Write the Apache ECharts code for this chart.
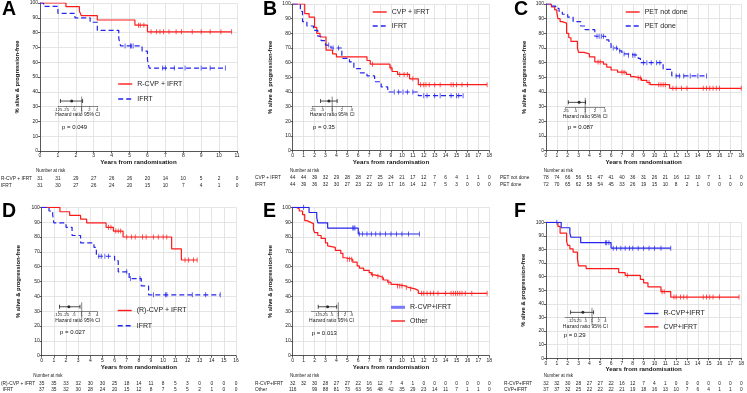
<!DOCTYPE html>
<html>
<head>
<meta charset="utf-8">
<style>html,body{margin:0;background:#fff}#chart{width:747px;height:393px}</style>
<script src="https://cdn.jsdelivr.net/npm/echarts@6/dist/echarts.min.js"></script>
</head>
<body>
<div id="chart"></div>
<script>
// ---- data ----
// curves: [years, % alive & progression-free] at each step
const aRed = [[0,100],[1.45,97.5],[2.2,94.5],[2.3,91.5],[3.2,88.5],[5.3,85],[6.0,80.5],[10.7,80.5]];
const aRedCens = [5.5,5.6,5.8,6.2,6.5,6.7,6.9,7.2,7.6,7.9,8.5,9.0,9.5,10.1,10.7];
const aBlue = [[0,100],[0.2,97.7],[1.0,93],[1.95,90],[2.8,87],[3.2,81.5],[4.4,76],[4.5,71],[5.7,67.5],[6.0,61.5],[6.1,56],[10.35,56]];
const aBlueCens = [4.75,5.05,5.1,5.2,6.85,7.0,7.5,8.1,9.0,9.5,10.35];

const bRed = [[0,100],[1.1,93.5],[1.5,91],[2.0,84],[2.2,80],[2.5,77.5],[3.05,68.5],[3.65,66],[4.0,64],[6.8,61.5],[7.1,59],[8.9,56.5],[9.1,54],[9.6,52],[10.7,49],[11.5,45],[17.8,45]];
const bRedCens = [7.3,9.0,9.8,10.2,10.5,11.0,11.7,12.0,12.2,12.5,13.0,13.5,14.5,14.7,15.0,15.5,16.0,17.8];
const bBlue = [[0,100],[0.7,95],[0.9,88],[1.3,85],[1.9,82],[2.3,78],[2.6,75],[3.0,72],[3.5,70],[4.5,63],[5.2,60.5],[5.6,56],[6.2,53],[6.8,51],[7.5,47],[8.1,43.5],[8.7,40],[11.5,37.5],[15.6,37.5]];
const bBlueCens = [3.3,3.7,4.2,9.3,9.7,10.1,10.5,11.0,12.0,12.3,13.0,13.5,14.5,15.0,15.2,15.6];

const cRed = [[0,100],[0.5,98],[0.8,96],[1.0,94],[1.1,90],[1.3,88],[1.5,87],[1.9,80],[2.1,77],[2.3,74.5],[2.9,70],[3.0,67],[3.5,66],[4.0,64],[4.5,60.5],[5.3,59],[5.6,57],[6.0,55],[6.6,53.5],[7.4,52],[7.8,50.5],[8.1,49.5],[8.8,48],[9.3,46.5],[9.6,45],[11.4,42.5],[18,42.5]];
const cRedCens = [4.8,5.0,7.0,7.2,8.5,8.7,9.5,10.4,10.6,10.8,11.0,11.7,12.0,12.5,13.0,14.5,14.8,15.1,15.4,15.7,16.0,18.0];
const cBlue = [[0,100],[0.6,98.5],[0.9,97],[1.2,95],[1.5,93],[2.0,91],[2.5,88],[3.2,85],[3.6,82.5],[4.5,78],[5.5,75.5],[5.8,73],[6.0,70],[6.6,68],[7.0,66],[7.4,65],[8.5,63],[8.7,60],[10.8,55.5],[11.6,51],[14.8,51]];
const cBlueCens = [4.7,4.9,5.1,5.3,6.2,6.5,6.8,7.2,7.6,8.0,8.2,9.0,9.3,9.7,10.2,10.5,12.0,12.3,12.7,13.3,14.0,14.8];

const dRed = [[0,100],[1.5,97],[2.3,94.5],[3.2,92],[3.7,89.5],[5.3,86.5],[5.9,84],[6.7,80],[10.7,72],[11.5,64.5],[12.8,64.5]];
const dRedCens = [5.5,5.7,6.1,6.3,6.5,7.0,7.4,7.7,8.3,8.6,9.2,9.6,10.0,10.3,11.8,12.1,12.5,12.8];
const dBlue = [[0,100],[0.6,97.5],[0.9,95],[1.0,89.5],[2.0,86.5],[2.5,81],[3.2,76],[4.3,73],[4.5,67],[6.0,64],[6.3,56.5],[7.2,52],[8.2,47],[8.8,41],[14.7,41]];
const dBlueCens = [4.7,4.9,5.2,5.5,7.0,7.3,8.1,9.2,10.2,10.3,12.4,13.5,14.7];

const eBlue = [[0,100],[1.5,96.5],[2.2,93],[2.3,89.5],[3.2,86],[6.0,82],[11.6,82]];
const eBlueCens = [1.0,5.5,5.6,5.7,6.1,6.4,6.8,7.2,7.6,8.0,8.5,9.0,9.5,10.0,10.6,11.6];
const eRed = [[0,100],[0.3,99],[0.6,97.5],[0.9,95],[1.1,91],[1.3,90],[1.6,89],[1.9,85],[2.0,83],[2.3,81],[2.6,79],[3.0,76],[3.2,74],[3.3,73],[3.9,71],[4.4,69],[4.6,66],[4.8,65],[5.5,63],[5.9,60.5],[6.1,59],[6.5,57.5],[7.0,56],[7.2,54.5],[7.5,53.5],[8.0,52.5],[8.3,51],[8.7,49.5],[9.0,48],[9.4,47],[10.3,46],[10.6,45],[11.2,44],[11.5,42],[17.8,42]];
const eRedCens = [5.0,5.2,5.4,7.3,7.8,8.2,8.8,9.6,9.8,10.0,10.4,10.8,11.8,12.0,12.3,12.6,12.9,13.3,14.0,14.5,14.7,14.9,15.1,15.3,15.5,15.8,16.4,17.8];

const fBlue = [[0,100],[1.4,96],[2.2,92],[2.3,89],[3.2,85],[6.0,81],[11.5,81]];
const fBlueCens = [1.0,5.5,5.6,5.8,6.2,6.5,6.9,7.3,7.7,8.0,8.5,9.0,9.5,10.0,10.6,11.5];
const fRed = [[0,100],[1.1,97],[1.3,92],[1.9,86],[2.0,83],[2.2,80.5],[2.5,78],[2.9,73],[3.0,68],[3.7,66],[6.7,63],[7.3,61],[8.7,58],[9.0,55.5],[9.4,52.5],[10.6,49],[11.5,45],[17.8,45]];
const fRedCens = [7.5,10.7,10.9,11.8,12.0,12.4,12.7,13.0,14.5,14.8,15.1,15.4,16.0,17.8];

// number at risk, one value per year tick
const riskA1 = [31,31,29,27,26,26,20,14,10,5,2,0];
const riskA2 = [31,30,27,26,24,20,15,10,7,4,1,0];
const riskB1 = [44,44,39,32,29,28,28,27,25,24,21,17,12,7,6,4,1,1,0];
const riskB2 = [44,39,36,32,30,27,23,22,19,17,16,14,12,7,5,3,0,0,0];
const riskC1 = [78,74,66,56,51,47,41,40,36,31,26,21,16,12,10,7,1,1,0];
const riskC2 = [72,70,65,62,58,54,45,33,26,19,15,10,8,2,1,0,0,0,0];
const riskD1 = [35,35,33,32,30,30,25,18,14,11,8,5,3,0,0,0,0];
const riskD2 = [37,35,32,30,28,24,20,15,12,8,7,5,5,2,1,0,0];
const riskE1 = [32,32,30,28,27,27,22,16,12,7,4,1,0,0,0,0,0,0,0];
const riskE2 = [116,'',99,88,81,73,63,56,48,42,35,29,23,14,11,7,1,1,0];
const riskF1 = [32,32,30,28,27,27,22,16,12,7,4,1,0,0,0,0,0,0,0];
const riskF2 = [37,37,32,25,22,22,22,21,19,18,16,13,10,7,6,4,1,1,0];

// hazard ratio insets: [lower CI, HR, upper CI]
const hrA = [0.15, 0.41, 1.09];
const hrB = [0.44, 0.79, 1.42];
const hrC = [0.3, 0.65, 1.03];
const hrD = [0.14, 0.32, 0.86];
const hrE = [0.125, 0.33, 0.85];
const hrF = [0.11, 0.39, 1.19];

const pValues = ['p = 0.049', 'p = 0.35', 'p = 0.087', 'p = 0.027', 'p = 0.013', 'p = 0.29'];

// ---- chart ----
const FONT = '"Liberation Sans", Arial, sans-serif';
const RED = '#ff1a1a', BLUE = '#2424ee';
const TXT = '#222';

const option = {
  backgroundColor: '#fff',
  animation: false,
  textStyle: { fontFamily: FONT },
  title: [], legend: [], grid: [], xAxis: [], yAxis: [], series: []
};

function stepAt(curve, t) {
  let v = curve[0][1];
  curve.forEach(p => { if (p[0] <= t + 1e-9) v = p[1]; });
  return v;
}

function addPanel(p) {
  const g = option.grid.length;
  option.grid.push({ left: p.left, top: p.top, width: p.width, height: p.height });
  const xi = option.xAxis.length, yi = option.yAxis.length;
  option.xAxis.push({
    gridIndex: g, type: 'value', min: 0, max: p.xMax, interval: 1,
    name: 'Years from randomisation', nameLocation: 'middle', nameGap: 8,
    nameTextStyle: { fontSize: 6.2, fontWeight: 'bold', color: '#111' },
    axisLine: { lineStyle: { color: '#333', width: 0.8 } },
    axisTick: { length: 2, lineStyle: { color: '#333', width: 0.8 } },
    axisLabel: { fontSize: 5, color: TXT, margin: 2.5 },
    splitLine: { show: true, lineStyle: { color: '#dedede', width: 0.8 } }
  });
  option.yAxis.push({
    gridIndex: g, type: 'value', min: 0, max: 100, interval: 10,
    name: '% alive & progression-free', nameLocation: 'middle', nameGap: p.yNameGap,
    nameTextStyle: { fontSize: 5.8, fontWeight: 'bold', color: '#111' },
    axisLine: { show: true, lineStyle: { color: '#333', width: 0.8 } },
    axisTick: { show: true, length: 2, lineStyle: { color: '#333', width: 0.8 } },
    axisLabel: { fontSize: 5, color: TXT, margin: 2 },
    splitLine: { show: true, lineStyle: { color: '#dedede', width: 0.8 } }
  });
  // number-at-risk rows as extra label-only axes
  p.risk.forEach((arr, k) => {
    option.xAxis.push({
      gridIndex: g, type: 'value', min: 0, max: p.xMax, interval: 1,
      position: 'bottom', offset: p.riskOffsets[k],
      axisLine: { show: false }, axisTick: { show: false }, splitLine: { show: false },
      axisLabel: {
        fontSize: 4.8, color: TXT, margin: 0,
        formatter: v => { const r = arr[Math.round(v)]; return r === undefined ? '' : String(r); }
      },
      name: p.names[k], nameLocation: 'start', nameGap: p.rowGap,
      nameTextStyle: { fontSize: 4.8, color: TXT, align: 'left', verticalAlign: 'top' }
    });
  });
  p.curves.forEach(c => {
    option.series.push({
      type: 'line', name: c.name, xAxisIndex: xi, yAxisIndex: yi,
      data: c.data, step: 'end', symbol: 'none', z: 3,
      itemStyle: { color: c.color },
      lineStyle: { color: c.color, width: 1.2, type: c.dashed ? [5, 3] : 'solid' }
    });
    option.series.push({
      type: 'scatter', name: c.name + ' censored', xAxisIndex: xi, yAxisIndex: yi,
      data: c.cens.map(t => [t, stepAt(c.data, t)]),
      symbol: 'rect', symbolSize: [0.9, 5], silent: true, z: 4,
      itemStyle: { color: c.color }
    });
  });
  option.legend.push({
    data: p.legendItems,
    left: p.legend.left, top: p.legend.top, orient: 'vertical', padding: 0,
    itemWidth: 14, itemHeight: 7, itemGap: p.legend.gap, selectedMode: false,
    itemStyle: { opacity: 0 },
    lineStyle: { width: 1.4 },
    textStyle: { fontSize: 7, color: TXT, fontFamily: FONT }
  });

  // hazard ratio inset
  const ig = option.grid.length;
  option.grid.push({ left: p.inset.left, top: p.inset.axisY - 9, width: p.inset.width, height: 9 });
  const ixi = option.xAxis.length, iyi = option.yAxis.length;
  option.xAxis.push({
    gridIndex: ig, type: 'log', logBase: 2, min: p.inset.min, max: 4,
    name: 'Hazard ratio 95% CI', nameLocation: 'middle', nameGap: 6.5,
    nameTextStyle: { fontSize: 5, color: TXT },
    axisLine: { lineStyle: { color: '#444', width: 0.6 } },
    axisTick: { length: 1.5, lineStyle: { color: '#444', width: 0.6 } },
    axisLabel: { fontSize: 4.3, color: TXT, margin: 1.5,
      formatter: v => String(+(+v).toFixed(4)).replace(/^0\./, '.') },
    splitLine: { show: false }
  });
  option.yAxis.push({ gridIndex: ig, type: 'value', min: 0, max: 1, show: false });
  const hr = p.inset.hr;
  option.series.push({
    type: 'line', name: 'ref', xAxisIndex: ixi, yAxisIndex: iyi, clip: false, silent: true,
    data: [[1, 1.05], [1, -0.8]], symbol: 'none', lineStyle: { color: '#555', width: 0.7 }
  });
  option.series.push({
    type: 'line', name: 'ci', xAxisIndex: ixi, yAxisIndex: iyi, clip: false, silent: true,
    data: [[hr[0], 0.55], [hr[2], 0.55]], symbol: 'rect', symbolSize: [0.8, 4],
    itemStyle: { color: '#222' }, lineStyle: { color: '#222', width: 0.8 }
  });
  option.series.push({
    type: 'scatter', name: 'hr', xAxisIndex: ixi, yAxisIndex: iyi, silent: true,
    data: [[hr[1], 0.55]], symbolSize: 3, itemStyle: { color: '#000' }
  });

  // panel letter, p-value, "Number at risk"
  option.title.push(
    { text: p.letter, left: p.letterPos[0], top: p.letterPos[1], padding: 0,
      textStyle: { fontSize: 19.5, fontWeight: 'bold', color: '#000', fontFamily: FONT } },
    { text: p.pText, left: p.pPos[0], top: p.pPos[1], padding: 0,
      textStyle: { fontSize: 6, fontWeight: 'normal', color: '#111', fontFamily: FONT } },
    { text: 'Number at risk', left: p.narPos[0], top: p.narPos[1], padding: 0,
      textStyle: { fontSize: 4.5, fontWeight: 'normal', color: TXT, fontFamily: FONT } }
  );
}

addPanel({
  letter: 'A', letterPos: [2, 0], left: 39, top: 3, width: 198, height: 148, xMax: 11, yNameGap: 20,
  curves: [
    { name: 'R-CVP + IFRT', data: aRed, cens: aRedCens, color: RED },
    { name: 'IFRT', data: aBlue, cens: aBlueCens, color: BLUE, dashed: true }
  ],
  legendItems: ['R-CVP + IFRT', 'IFRT'], legend: { left: 117.5, top: 80.5, gap: 8 },
  risk: [riskA1, riskA2], names: ['R-CVP + IFRT', 'IFRT'], riskOffsets: [24.8, 31.8], rowGap: 39,
  inset: { left: 58.3, width: 39, axisY: 106, min: 0.125, hr: hrA },
  pText: pValues[0], pPos: [62, 124], narPos: [36, 168.7]
});
addPanel({
  letter: 'B', letterPos: [263, 0], left: 292.7, top: 4, width: 196.6, height: 146.7, xMax: 18, yNameGap: 19,
  curves: [
    { name: 'CVP + IFRT', data: bRed, cens: bRedCens, color: RED },
    { name: 'IFRT', data: bBlue, cens: bBlueCens, color: BLUE, dashed: true }
  ],
  legendItems: ['CVP + IFRT', 'IFRT'], legend: { left: 372, top: 8.5, gap: 7 },
  risk: [riskB1, riskB2], names: ['CVP + IFRT', 'IFRT'], riskOffsets: [24.8, 31.8], rowGap: 37.7,
  inset: { left: 312.7, width: 39, axisY: 106, min: 0.25, hr: hrB },
  pText: pValues[1], pPos: [313, 124], narPos: [290, 168.7]
});
addPanel({
  letter: 'C', letterPos: [514, 0], left: 546, top: 4, width: 197, height: 146.7, xMax: 18, yNameGap: 19,
  curves: [
    { name: 'PET not done', data: cRed, cens: cRedCens, color: RED },
    { name: 'PET done', data: cBlue, cens: cBlueCens, color: BLUE, dashed: true }
  ],
  legendItems: ['PET not done', 'PET done'], legend: { left: 625, top: 8.5, gap: 7 },
  risk: [riskC1, riskC2], names: ['PET not done', 'PET done'], riskOffsets: [24.8, 31.8], rowGap: 46,
  inset: { left: 565.7, width: 39, axisY: 107.3, min: 0.25, hr: hrC },
  pText: pValues[2], pPos: [568, 124], narPos: [543.7, 168.7]
});
addPanel({
  letter: 'D', letterPos: [2, 202], left: 39, top: 207.3, width: 197, height: 148.4, xMax: 16, yNameGap: 20,
  curves: [
    { name: '(R)-CVP + IFRT', data: dRed, cens: dRedCens, color: RED },
    { name: 'IFRT', data: dBlue, cens: dBlueCens, color: BLUE, dashed: true }
  ],
  legendItems: ['(R)-CVP + IFRT', 'IFRT'], legend: { left: 117, top: 307, gap: 8.3 },
  risk: [riskD1, riskD2], names: ['(R)-CVP + IFRT', 'IFRT'], riskOffsets: [25.8, 31.8], rowGap: 39,
  inset: { left: 58.3, width: 39, axisY: 311.7, min: 0.125, hr: hrD },
  pText: pValues[3], pPos: [60, 329.7], narPos: [33.3, 373.4]
});
addPanel({
  letter: 'E', letterPos: [263, 202], left: 292.7, top: 207.3, width: 196.6, height: 148.4, xMax: 18, yNameGap: 19,
  curves: [
    { name: 'Other', data: eRed, cens: eRedCens, color: RED },
    { name: 'R-CVP+IFRT', data: eBlue, cens: eBlueCens, color: BLUE }
  ],
  legendItems: [{ name: 'R-CVP+IFRT', lineStyle: { width: 3, color: '#7a7aff' } }, 'Other'],
  legend: { left: 389.5, top: 303.8, gap: 6.7 },
  risk: [riskE1, riskE2], names: ['R-CVP+IFRT', 'Other'], riskOffsets: [25.8, 31.8], rowGap: 37.7,
  inset: { left: 311.5, width: 40.2, axisY: 311.7, min: 0.0625, hr: hrE },
  pText: pValues[4], pPos: [311.7, 330.3], narPos: [290, 373.4]
});
addPanel({
  letter: 'F', letterPos: [514, 202], left: 546, top: 222.3, width: 197, height: 136, xMax: 18, yNameGap: 19.5,
  curves: [
    { name: 'CVP+IFRT', data: fRed, cens: fRedCens, color: RED },
    { name: 'R-CVP+IFRT', data: fBlue, cens: fBlueCens, color: BLUE }
  ],
  legendItems: ['R-CVP+IFRT', 'CVP+IFRT'], legend: { left: 643.7, top: 310, gap: 6.4 },
  risk: [riskF1, riskF2], names: ['R-CVP+IFRT', 'CVP+IFRT'], riskOffsets: [23.2, 29.2], rowGap: 42,
  inset: { left: 565.2, width: 40.2, axisY: 317.3, min: 0.0625, hr: hrF },
  pText: pValues[5], pPos: [563.7, 332], narPos: [543.7, 373.4]
});

const chart = echarts.init(document.getElementById('chart'), null, { renderer: 'canvas' });
chart.setOption(option);
</script>
</body>
</html>
